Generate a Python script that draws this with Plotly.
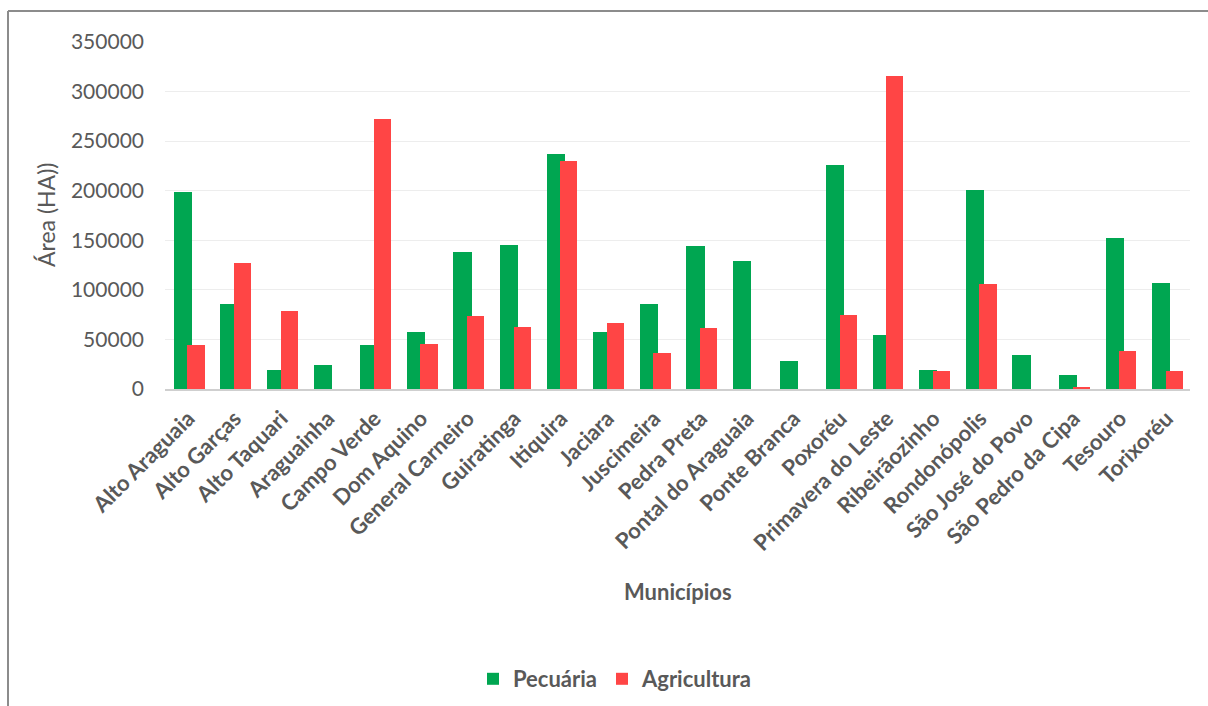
import plotly.graph_objects as go

municipios = [
    "Alto Araguaia", "Alto Garças", "Alto Taquari", "Araguainha", "Campo Verde",
    "Dom Aquino", "General Carneiro", "Guiratinga", "Itiquira", "Jaciara",
    "Juscimeira", "Pedra Preta", "Pontal do Araguaia", "Ponte Branca", "Poxoréu",
    "Primavera do Leste", "Ribeirãozinho", "Rondonópolis", "São José do Povo",
    "São Pedro da Cipa", "Tesouro", "Torixoréu",
]
pecuaria = [
    199000, 86000, 19000, 24000, 44500,
    57000, 138000, 145000, 237000, 57000,
    86000, 144000, 129000, 28000, 226000,
    54500, 19000, 201000, 34500,
    14000, 152500, 107000,
]
agricultura = [
    44000, 127000, 78500, 0, 272000,
    45000, 74000, 63000, 229500, 67000,
    36000, 62000, 0, 0, 74500,
    316000, 18000, 106000, 0,
    2300, 38500, 18000,
]
y_ticks = [0, 50000, 100000, 150000, 200000, 250000, 300000, 350000]

GREEN = "#00A651"
RED = "#FF4545"
TEXT = "#595959"
FONT = "Lato"

W, H = 1208, 706
L, R, T, B = 165, 18, 42, 317
PW, PH = W - L - R, H - T - B


def px_x(px):
    return (px - L) / PW


def px_y(py):
    return (H - B - py) / PH


fig = go.Figure()
fig.add_trace(go.Bar(
    x=municipios, y=pecuaria, name="Pecuária",
    marker=dict(color=GREEN, line=dict(width=0)),
    width=0.39, offset=-0.31,
))
fig.add_trace(go.Bar(
    x=municipios, y=agricultura, name="Agricultura",
    marker=dict(color=RED, line=dict(width=0)),
    width=0.37, offset=-0.02,
))

fig.update_layout(
    width=W, height=H,
    margin=dict(l=L, r=R, t=T, b=B, autoexpand=False),
    paper_bgcolor="white", plot_bgcolor="white",
    font=dict(family=FONT, color=TEXT),
    barmode="overlay",
    bargap=0,
    showlegend=True,
    legend=dict(
        orientation="h", x=px_x(615), xanchor="center",
        yref="container", y=(H - 679) / H, yanchor="middle",
        font=dict(size=22, family=FONT, color=TEXT, weight="bold"),
        itemwidth=30, traceorder="normal",
    ),
    xaxis=dict(
        tickangle=-45, automargin=False,
        tickfont=dict(size=22, family=FONT, color=TEXT, weight="bold"),
        showgrid=False, showline=True, linecolor="#CFCFCF", linewidth=2,
        ticks="", range=[-0.5, len(municipios) - 0.5],
        ticklabelstandoff=6,
    ),
    yaxis=dict(
        range=[0, 350000], tickvals=y_ticks, automargin=False,
        ticktext=[str(v) for v in y_ticks],
        tickfont=dict(size=21, family=FONT, color=TEXT),
        showgrid=True, gridcolor="#EDEDED", gridwidth=1,
        zeroline=False, showline=False, ticks="",
        ticklabelstandoff=20,
    ),
    annotations=[
        dict(text="Municípios", x=px_x(678), y=px_y(591), xref="paper", yref="paper",
             showarrow=False, font=dict(size=22, family=FONT, color=TEXT, weight="bold"),
             xanchor="center", yanchor="middle"),
        dict(text="Área (HA))", x=px_x(46), y=px_y(215), xref="paper", yref="paper",
             showarrow=False, textangle=-90,
             font=dict(size=23, family=FONT, color=TEXT),
             xanchor="center", yanchor="middle"),
    ],
    shapes=[
        dict(type="line", xref="paper", yref="paper",
             x0=px_x(8), x1=px_x(W), y0=px_y(11), y1=px_y(11),
             line=dict(color="#8C8C8C", width=2)),
        dict(type="line", xref="paper", yref="paper",
             x0=px_x(8), x1=px_x(8), y0=px_y(11), y1=px_y(H),
             line=dict(color="#8C8C8C", width=2)),
    ],
)

fig.write_html("out.html")
